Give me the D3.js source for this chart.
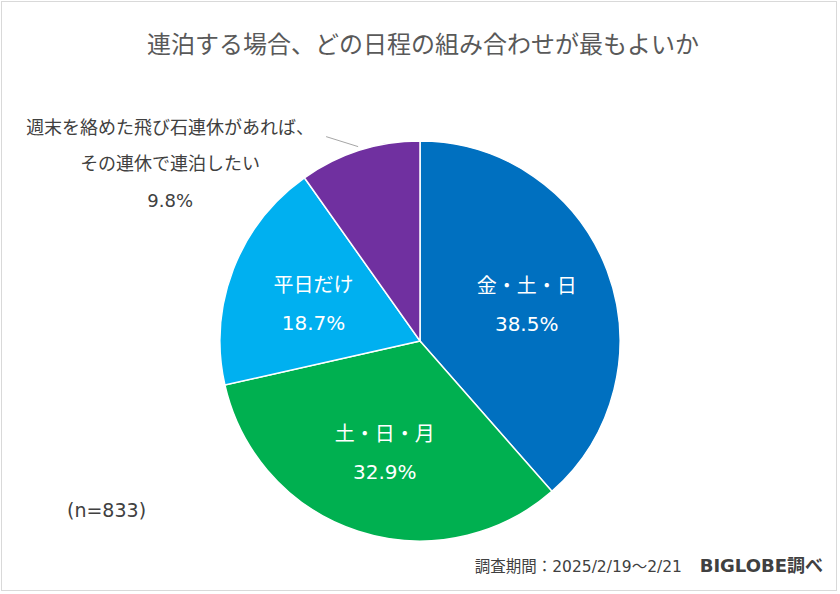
<!DOCTYPE html>
<html>
<head>
<meta charset="utf-8">
<script src="https://cdn.jsdelivr.net/npm/d3@7"></script>
<style>
  body { margin: 0; background: #fff; }
  svg text { font-family: "DejaVu Sans", "Noto Sans CJK JP", sans-serif; }
</style>
</head>
<body>
<svg id="chart" width="840" height="594"></svg>
<script>
// data
const categories = ["金・土・日", "土・日・月", "平日だけ", "週末を絡めた飛び石連休があれば、\nその連休で連泊したい"];
const values = [38.5, 32.9, 18.7, 9.8];
const colors = ["#0070C0", "#00B050", "#00B0F0", "#7030A0"];
const title = "連泊する場合、どの日程の組み合わせが最もよいか";
const sampleNote = "(n=833)";
const periodNote = "調査期間：2025/2/19～2/21";
const sourceNote = "BIGLOBE調べ";

const svg = d3.select("#chart");
const width = 840, height = 594;
const cx = 420, cy = 341, radius = 200;

svg.append("rect")
    .attr("x", 1.5).attr("y", 1.5)
    .attr("width", width - 5).attr("height", height - 5)
    .attr("fill", "#fff")
    .attr("stroke", "#d9d9d9");

svg.append("text")
    .attr("x", cx + 3).attr("y", 53)
    .attr("text-anchor", "middle")
    .attr("font-size", 24)
    .attr("fill", "#595959")
    .text(title);

const pie = d3.pie().sort(null).value(d => d.v);
const arcs = pie(values.map((v, i) => ({ v, name: categories[i], color: colors[i] })));

const arc = d3.arc().innerRadius(0).outerRadius(radius);
const labelArc = d3.arc().innerRadius(radius * 0.57).outerRadius(radius * 0.57);

const g = svg.append("g").attr("transform", `translate(${cx},${cy})`);

g.selectAll("path")
    .data(arcs)
    .join("path")
    .attr("d", arc)
    .attr("fill", d => d.data.color)
    .attr("stroke", "#fff")
    .attr("stroke-width", 1.5);

// labels inside the big slices
const inside = arcs.filter(d => d.data.v > 15);
const lab = g.selectAll("g.lab")
    .data(inside)
    .join("g")
    .attr("class", "lab")
    .attr("transform", d => {
        const [x, y] = labelArc.centroid(d);
        return `translate(${x},${y})`;
    });

lab.append("text")
    .attr("text-anchor", "middle")
    .attr("y", -8)
    .attr("font-size", 20)
    .attr("fill", "#fff")
    .text(d => d.data.name);

lab.append("text")
    .attr("text-anchor", "middle")
    .attr("y", 30)
    .attr("font-size", 20)
    .attr("fill", "#fff")
    .text(d => d.data.v.toFixed(1) + "%");

// small slice: label outside with a leader line
const small = arcs.filter(d => d.data.v <= 15);
small.forEach(d => {
    const mid = (d.startAngle + d.endAngle) / 2;
    const p0 = [Math.sin(mid) * (radius + 4), -Math.cos(mid) * (radius + 4)];
    const p1 = [p0[0] - 32, p0[1] - 10];
    g.append("line")
        .attr("x1", p0[0]).attr("y1", p0[1])
        .attr("x2", p1[0]).attr("y2", p1[1])
        .attr("stroke", "#a6a6a6")
        .attr("stroke-width", 1);

    const lines = d.data.name.split("\n").concat([d.data.v.toFixed(1) + "%"]);
    const lx = p1[0] - 156, ly = p1[1] - 3;
    g.append("text")
        .attr("text-anchor", "middle")
        .attr("font-size", 18)
        .attr("fill", "#404040")
        .selectAll("tspan")
        .data(lines)
        .join("tspan")
        .attr("x", lx)
        .attr("y", (t, i) => ly + i * 36.5)
        .text(t => t);
});

svg.append("text")
    .attr("x", 67).attr("y", 517)
    .attr("font-size", 19)
    .attr("fill", "#404040")
    .text(sampleNote);

svg.append("text")
    .attr("x", 682).attr("y", 572)
    .attr("text-anchor", "end")
    .attr("font-size", 15.5)
    .attr("fill", "#404040")
    .text(periodNote);

svg.append("text")
    .attr("x", 823).attr("y", 572)
    .attr("text-anchor", "end")
    .attr("font-size", 18)
    .attr("font-weight", "bold")
    .attr("fill", "#404040")
    .text(sourceNote);
</script>
</body>
</html>
